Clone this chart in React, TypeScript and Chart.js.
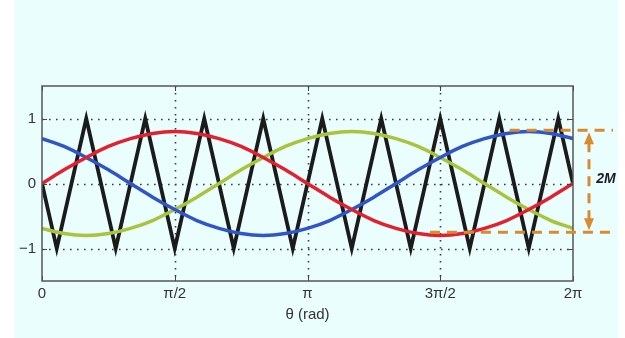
import React, { useEffect, useRef } from "react";
import { Chart, registerables } from "chart.js";

Chart.register(...registerables);

// Sample angles (degrees) for the three sinusoids
const thetaDeg = [0, 15, 30, 45, 60, 75, 90, 105, 120, 135, 150, 165, 180, 195, 210, 225, 240, 255, 270, 285, 300, 315, 330, 345, 360];
const redVals = [0, 0.21, 0.4, 0.57, 0.69, 0.77, 0.8, 0.77, 0.69, 0.57, 0.4, 0.21, 0, -0.21, -0.4, -0.57, -0.69, -0.77, -0.8, -0.77, -0.69, -0.57, -0.4, -0.21, 0];
const blueVals = [0.69, 0.57, 0.4, 0.21, 0, -0.21, -0.4, -0.57, -0.69, -0.77, -0.8, -0.77, -0.69, -0.57, -0.4, -0.21, 0, 0.21, 0.4, 0.57, 0.69, 0.77, 0.8, 0.77, 0.69];
const greenVals = [-0.69, -0.77, -0.8, -0.77, -0.69, -0.57, -0.4, -0.21, 0, 0.21, 0.4, 0.57, 0.69, 0.77, 0.8, 0.77, 0.69, 0.57, 0.4, 0.21, 0, -0.21, -0.4, -0.57, -0.69];

// Triangle carrier vertices
const carrierDeg = [0, 10, 30, 50, 70, 90, 110, 130, 150, 170, 190, 210, 230, 250, 270, 290, 310, 330, 350, 360];
const carrierVals = [0, -1, 1, -1, 1, -1, 1, -1, 1, -1, 1, -1, 1, -1, 1, -1, 1, -1, 1, 0];

// Tick labels
const xTickDeg = [0, 90, 180, 270, 360];
const xTickLabels = ["0", "π/2", "π", "3π/2", "2π"];
const yTickVals = [-1, 0, 1];
const yTickLabels = ["−1", "0", "1"];

// 2M annotation levels
const annotTop = 0.82;
const annotBottom = -0.75;
const annotTopStartDeg = 317;
const annotBottomStartDeg = 263;
const annotLabel = "2M";

const BG = "#ebfefe";
const ORANGE = "#d98a2e";
const FONT = "'Liberation Sans', Arial, Helvetica, sans-serif";

const zip = (xs: number[], ys: number[]) => xs.map((x, i) => ({ x, y: ys[i] }));

const framePlugin = {
  id: "frame",
  beforeDatasetsDraw(chart: any) {
    const { ctx, chartArea, scales } = chart;
    const { left, right, top, bottom } = chartArea;
    ctx.save();
    ctx.strokeStyle = "#3a3a3a";
    ctx.lineWidth = 1.6;
    ctx.setLineDash([1.6, 5.4]);
    ctx.beginPath();
    xTickDeg.slice(1, -1).forEach((d) => {
      const px = Math.round(scales.x.getPixelForValue(d)) + 0.5;
      ctx.moveTo(px, top);
      ctx.lineTo(px, bottom);
    });
    yTickVals.forEach((v) => {
      const py = Math.round(scales.y.getPixelForValue(v)) + 0.5;
      ctx.moveTo(left, py);
      ctx.lineTo(right, py);
    });
    ctx.stroke();
    ctx.restore();
  },
  afterDatasetsDraw(chart: any) {
    const { ctx, chartArea, scales } = chart;
    const { left, right, top, bottom } = chartArea;
    ctx.save();
    // tick marks inside
    ctx.strokeStyle = "#444";
    ctx.lineWidth = 1;
    ctx.setLineDash([]);
    ctx.beginPath();
    xTickDeg.forEach((d) => {
      const px = Math.round(scales.x.getPixelForValue(d)) + 0.5;
      ctx.moveTo(px, top);
      ctx.lineTo(px, top + 5);
      ctx.moveTo(px, bottom);
      ctx.lineTo(px, bottom - 5);
    });
    yTickVals.forEach((v) => {
      const py = Math.round(scales.y.getPixelForValue(v)) + 0.5;
      ctx.moveTo(left, py);
      ctx.lineTo(left + 5, py);
      ctx.moveTo(right, py);
      ctx.lineTo(right - 5, py);
    });
    ctx.stroke();
    // box
    ctx.strokeStyle = "#555";
    ctx.lineWidth = 1.5;
    ctx.strokeRect(left, top, right - left, bottom - top);

    // 2M annotation
    const yT = scales.y.getPixelForValue(annotTop);
    const yB = scales.y.getPixelForValue(annotBottom);
    const xEnd = right + 40;
    ctx.strokeStyle = ORANGE;
    ctx.fillStyle = ORANGE;
    ctx.lineWidth = 3;
    ctx.setLineDash([10, 7]);
    ctx.beginPath();
    ctx.moveTo(scales.x.getPixelForValue(annotTopStartDeg), yT);
    ctx.lineTo(xEnd, yT);
    ctx.moveTo(scales.x.getPixelForValue(annotBottomStartDeg), yB);
    ctx.lineTo(xEnd, yB);
    ctx.stroke();
    const ax = right + 16;
    ctx.beginPath();
    ctx.moveTo(ax, yT + 12);
    ctx.lineTo(ax, yB - 12);
    ctx.stroke();
    ctx.setLineDash([]);
    ctx.beginPath();
    ctx.moveTo(ax, yT + 2);
    ctx.lineTo(ax - 5, yT + 14);
    ctx.lineTo(ax + 5, yT + 14);
    ctx.closePath();
    ctx.fill();
    ctx.beginPath();
    ctx.moveTo(ax, yB - 2);
    ctx.lineTo(ax - 5, yB - 14);
    ctx.lineTo(ax + 5, yB - 14);
    ctx.closePath();
    ctx.fill();
    ctx.fillStyle = "#1a1a2a";
    ctx.font = `italic bold 14px ${FONT}`;
    ctx.textAlign = "center";
    ctx.textBaseline = "middle";
    ctx.fillText(annotLabel, right + 33, (yT + yB) / 2 - 2);
    ctx.restore();
  },
};

export default function App() {
  const ref = useRef<HTMLCanvasElement>(null);
  useEffect(() => {
    if (!ref.current) return;
    const chart = new Chart(ref.current, {
      type: "line",
      data: {
        datasets: [
          { data: zip(thetaDeg, redVals), borderColor: "#e32030", borderWidth: 3.5, pointRadius: 0, cubicInterpolationMode: "monotone", order: 0 },
          { data: zip(thetaDeg, blueVals), borderColor: "#2f55c9", borderWidth: 3.5, pointRadius: 0, cubicInterpolationMode: "monotone", order: 1 },
          { data: zip(thetaDeg, greenVals), borderColor: "#a9c43c", borderWidth: 3.5, pointRadius: 0, cubicInterpolationMode: "monotone", order: 2 },
          { data: zip(carrierDeg, carrierVals), borderColor: "#1b1b1b", borderWidth: 3.8, pointRadius: 0, tension: 0, order: 3, borderJoinStyle: "miter" },
        ],
      },
      plugins: [framePlugin],
      options: {
        animation: false,
        responsive: false,
        maintainAspectRatio: false,
        layout: { padding: { left: 0, right: 45, top: 86, bottom: 14 } },
        plugins: { legend: { display: false }, tooltip: { enabled: false } },
        scales: {
          x: {
            type: "linear",
            min: 0,
            max: 360,
            afterBuildTicks: (s: any) => {
              s.ticks = xTickDeg.map((v) => ({ value: v }));
            },
            afterFit: (s: any) => {
              s.height = 43;
            },
            ticks: {
              autoSkip: false,
              maxRotation: 0,
              padding: 4,
              color: "#333",
              font: { family: FONT, size: 15 },
              callback: (v: any) => xTickLabels[xTickDeg.indexOf(Number(v))] ?? "",
            },
            grid: { display: false, drawTicks: false },
            border: { display: false },
            title: { display: true, text: "θ (rad)", color: "#333", font: { family: FONT, size: 15 }, padding: { top: 0, bottom: 0 } },
          },
          y: {
            min: -1.5,
            max: 1.5,
            afterBuildTicks: (s: any) => {
              s.ticks = yTickVals.map((v) => ({ value: v }));
            },
            afterFit: (s: any) => {
              s.width = 27;
            },
            ticks: {
              padding: 6,
              color: "#333",
              font: { family: FONT, size: 15 },
              callback: (v: any) => yTickLabels[yTickVals.indexOf(Number(v))] ?? "",
            },
            grid: { display: false, drawTicks: false },
            border: { display: false },
          },
        },
      },
    } as any);
    return () => chart.destroy();
  }, []);
  return (
    <div style={{ position: "absolute", left: 0, top: 0, width: 625, height: 338, background: "#fff" }}>
      <div style={{ position: "absolute", left: 15, top: 0, width: 603, height: 338, background: BG }}>
        <canvas ref={ref} width={603} height={338} style={{ display: "block", width: 603, height: 338 }} />
      </div>
    </div>
  );
}
